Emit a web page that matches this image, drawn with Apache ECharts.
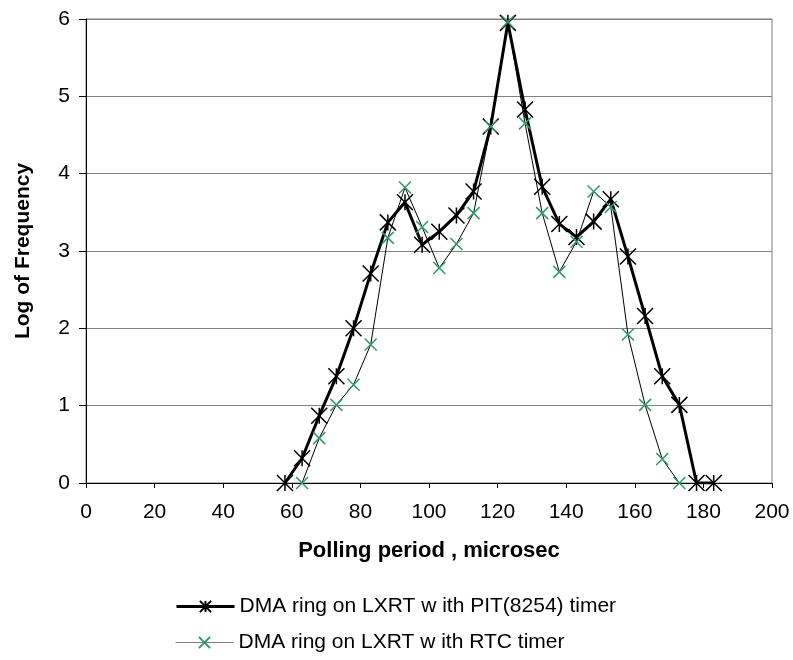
<!DOCTYPE html>
<html><head><meta charset="utf-8">
<script src="https://cdn.jsdelivr.net/npm/echarts@6/dist/echarts.min.js"></script>
<style>html,body{margin:0;padding:0;background:#fff}#c{width:793px;height:660px}</style>
</head><body><div id="c"></div>
<script>
var pitX = [58,63,68,73,78,83,88,93,98,103,108,113,118,123,128,133,138,143,148,153,158,163,168,173,178,183];
var pitY = [0,0.32,0.87,1.38,2.0,2.71,3.37,3.63,3.08,3.25,3.46,3.77,4.61,5.95,4.83,3.83,3.35,3.18,3.38,3.67,2.93,2.16,1.38,1.01,0,0];
var rtcX = [63,68,73,78,83,88,93,98,103,108,113,118,123,128,133,138,143,148,153,158,163,168,173];
var rtcY = [0,0.58,1.01,1.27,1.79,3.17,3.82,3.31,2.78,3.09,3.49,4.61,5.96,4.65,3.49,2.73,3.12,3.77,3.57,1.92,1.01,0.31,0];
var xTicks = {min:0, max:200, interval:20};
var yTicks = {min:0, max:6, interval:1};
var names = ['DMA ring on LXRT w ith PIT(8254) timer','DMA ring on LXRT w ith RTC timer'];

function pairs(xs, ys){ return xs.map(function(x,i){return [x, ys[i]];}); }
var font = 'Liberation Sans, Arial, sans-serif';
var legendText = {fontFamily:font, fontSize:21, color:'#000'};
var chart = echarts.init(document.getElementById('c'), null, {renderer:'canvas'});
chart.setOption({
  animation:false,
  grid:{left:86, right:21, top:19, bottom:177, show:true, borderColor:'#808080', borderWidth:1},
  xAxis:{type:'value', min:xTicks.min, max:xTicks.max, interval:xTicks.interval,
    name:'Polling period , microsec', nameLocation:'middle', nameGap:57,
    nameTextStyle:{fontFamily:font, fontSize:22, fontWeight:'bold', color:'#000'},
    axisLine:{show:true, onZero:false, lineStyle:{color:'#000', width:1}},
    axisTick:{show:true, inside:false, length:5, lineStyle:{color:'#000'}},
    axisLabel:{fontFamily:font, fontSize:21, color:'#000', margin:19},
    splitLine:{show:false}},
  yAxis:{type:'value', min:yTicks.min, max:yTicks.max, interval:yTicks.interval,
    name:'Log of Frequency', nameLocation:'middle', nameGap:52, nameRotate:90,
    nameTextStyle:{fontFamily:font, fontSize:21, fontWeight:'bold', color:'#000'},
    axisLine:{show:true, lineStyle:{color:'#000', width:1}},
    axisTick:{show:true, inside:false, length:7, lineStyle:{color:'#000'}},
    axisLabel:{fontFamily:font, fontSize:21, color:'#000', margin:16},
    splitLine:{show:true, lineStyle:{color:'#808080', width:1}}},
  legend:[
    {left:175, top:596, padding:0, itemWidth:58, itemHeight:14, textStyle:legendText,
      data:[{name:names[0], lineStyle:{color:'#000', width:3}}]},
    {left:175, top:632, padding:0, itemWidth:58, itemHeight:14, textStyle:legendText,
      data:[{name:names[1], lineStyle:{color:'#808080', width:1}}]}
  ],
  series:[
    {name:names[1], type:'line', data:pairs(rtcX, rtcY), z:3,
      symbol:'path://M0,0L10,10M10,0L0,10', symbolSize:12,
      lineStyle:{color:'#000', width:1},
      itemStyle:{color:'#339966', borderColor:'#339966', borderWidth:1.5}},
    {name:names[0], type:'line', data:pairs(pitX, pitY), z:2,
      symbol:'path://M0,0L10,10M10,0L0,10M5,0L5,10', symbolSize:16,
      lineStyle:{color:'#000', width:3},
      itemStyle:{color:'#000', borderColor:'#000', borderWidth:1.5}}
  ]
});
</script></body></html>
